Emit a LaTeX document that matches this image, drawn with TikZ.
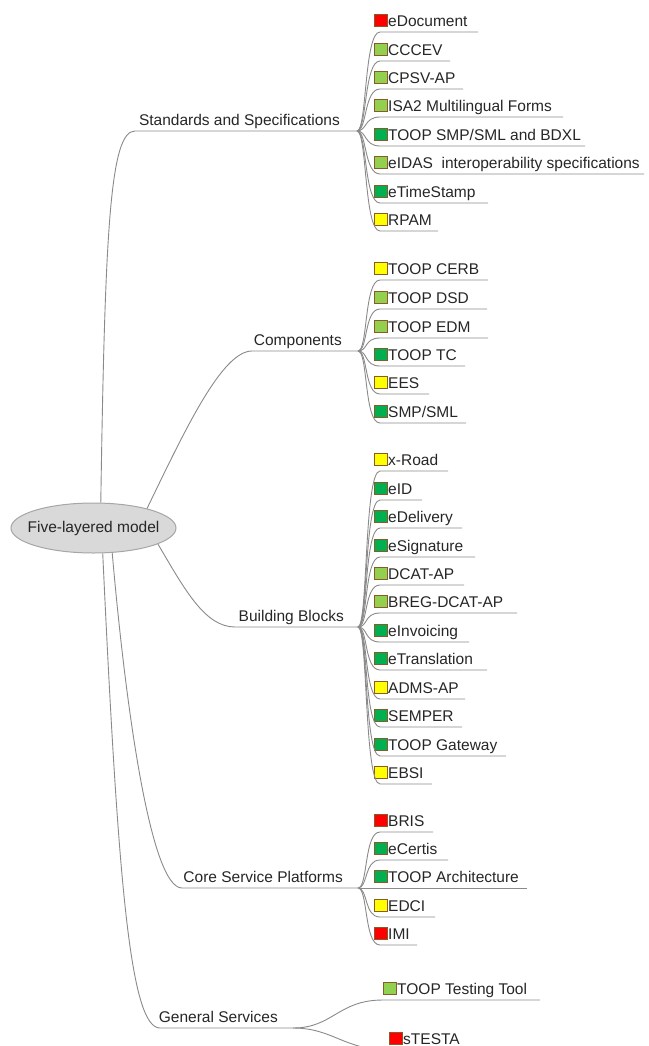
\documentclass[tikz,border=0pt]{standalone}
\usepackage{fontspec}
\setmainfont{Liberation Sans}
\usetikzlibrary{calc,shapes.geometric}
\definecolor{lnk}{HTML}{8A8A8A}
\definecolor{txt}{HTML}{262626}
\definecolor{sqb}{HTML}{8B5A2B}
\definecolor{cred}{HTML}{FF0000}
\definecolor{clg}{HTML}{92D050}
\definecolor{cdg}{HTML}{00B050}
\definecolor{cyl}{HTML}{FFFF00}
\definecolor{rootfill}{HTML}{D9D9D9}
\definecolor{rootdraw}{HTML}{A6A6A6}
\tikzset{
  link/.style={draw=lnk, line width=0.9pt},
  sq/.style={draw=sqb, line width=1pt, minimum width=13.5pt, minimum height=12.5pt, inner sep=0pt},
  lbl/.style={anchor=base west, inner sep=0pt, text=txt, font=\fontsize{15.5}{18}\selectfont},
  blbl/.style={anchor=base east, inner sep=0pt, text=txt, font=\fontsize{15.5}{18}\selectfont},
  rootnode/.style={ellipse, draw=rootdraw, fill=rootfill, line width=1pt, minimum width=165pt, minimum height=50pt, inner sep=0pt},
  roottext/.style={inner sep=0pt, text=txt, font=\fontsize{15.5}{18}\selectfont}
}
% #1 name, #2 fork coordinate, #3 underline y, #4 underline end x, #5 colour, #6 text
\newcommand\leafitem[6]{%
  \coordinate (#1-u) at (380,#3);
  \coordinate (#1-e) at (#4,#3);
  \node[sq, fill=#5] (#1-q) at (381,#3-11.5) {};
  \node[lbl] (#1-t) at (388,#3-5.5) {#6};
  \draw[link] (#2) .. controls +(10,0) and +(-16,0) .. (#1-u) -- (#1-e);
}
\begin{document}
\begin{tikzpicture}[x=1pt,y=-1pt]
\useasboundingbox (0,0) rectangle (648,1046);
\clip (0,0) rectangle (648,1046);

% root
\node[rootnode] (root) at (93.5,528) {};
\node[roottext] (roott) at (root.center) {Five-layered model};

% branch forks and labels
\coordinate (std-f) at (357,131);
\coordinate (comp-f) at (358,351);
\coordinate (bb-f) at (358,627);
\coordinate (csp-f) at (358,888);
\coordinate (gs-f) at (293,1028);

\coordinate (std-l) at (135,131);
\coordinate (comp-l) at (252,351);
\coordinate (bb-l) at (235,627);
\coordinate (csp-l) at (182,888);
\coordinate (gs-l) at (160,1028);

\node[blbl] (std) at (340,125) {Standards and Specifications};
\node[blbl] (comp) at (342,345) {Components};
\node[blbl] (bb) at (344,621) {Building Blocks};
\node[blbl] (csp) at (343,882) {Core Service Platforms};
\node[blbl] (gs) at (278,1022) {General Services};

\draw[link] (root.74) .. controls (105,230) and (110,131) .. (std-l) -- (std-f);
\draw[link] (root.20) .. controls (185,430) and (222,351) .. (comp-l) -- (comp-f);
\draw[link] (root.-14) .. controls (185,590) and (205,627) .. (bb-l) -- (bb-f);
\draw[link] (root.-53) .. controls (125,700) and (150,888) .. (csp-l) -- (csp-f);
\draw[link] (root.-70) .. controls (118,880) and (130,1028) .. (gs-l) -- (gs-f);

% Standards and Specifications
\leafitem{s1}{std-f}{32}{478}{cred}{eDocument}
\leafitem{s2}{std-f}{61}{450}{clg}{CCCEV}
\leafitem{s3}{std-f}{89}{463}{clg}{CPSV-AP}
\leafitem{s4}{std-f}{117}{563}{clg}{ISA2 Multilingual Forms}
\leafitem{s5}{std-f}{146}{585}{cdg}{TOOP SMP/SML and BDXL}
\leafitem{s6}{std-f}{174}{644}{clg}{eIDAS\ \ interoperability specifications}
\leafitem{s7}{std-f}{203}{488}{cdg}{eTimeStamp}
\leafitem{s8}{std-f}{231}{438}{cyl}{RPAM}

% Components
\leafitem{c1}{comp-f}{280}{488}{cyl}{TOOP CERB}
\leafitem{c2}{comp-f}{309}{487}{clg}{TOOP DSD}
\leafitem{c3}{comp-f}{338}{488}{clg}{TOOP EDM}
\leafitem{c4}{comp-f}{366}{465}{cdg}{TOOP TC}
\leafitem{c5}{comp-f}{394}{429}{cyl}{EES}
\leafitem{c6}{comp-f}{423}{466}{cdg}{SMP/SML}

% Building Blocks
\leafitem{b1}{bb-f}{471}{448}{cyl}{x-Road}
\leafitem{b2}{bb-f}{500}{422}{cdg}{eID}
\leafitem{b3}{bb-f}{528}{462}{cdg}{eDelivery}
\leafitem{b4}{bb-f}{557}{475}{cdg}{eSignature}
\leafitem{b5}{bb-f}{585}{464}{clg}{DCAT-AP}
\leafitem{b6}{bb-f}{613}{517}{clg}{BREG-DCAT-AP}
\leafitem{b7}{bb-f}{642}{469}{cdg}{eInvoicing}
\leafitem{b8}{bb-f}{670}{487}{cdg}{eTranslation}
\leafitem{b9}{bb-f}{699}{465}{cyl}{ADMS-AP}
\leafitem{b10}{bb-f}{727}{462}{cdg}{SEMPER}
\leafitem{b11}{bb-f}{756}{506}{cdg}{TOOP Gateway}
\leafitem{b12}{bb-f}{784}{432}{cyl}{EBSI}

% Core Service Platforms
\leafitem{p1}{csp-f}{832}{433}{cred}{BRIS}
\leafitem{p2}{csp-f}{860}{448}{cdg}{eCertis}
\leafitem{p3}{csp-f}{888}{527}{cdg}{TOOP Architecture}
\leafitem{p4}{csp-f}{917}{435}{cyl}{EDCI}
\leafitem{p5}{csp-f}{945}{417}{cred}{IMI}

% General Services
\coordinate (g1-u) at (383,1000);
\coordinate (g1-e) at (540,1000);
\node[sq, fill=clg] (g1-q) at (390,988.5) {};
\node[lbl] (g1-t) at (397,994.5) {TOOP Testing Tool};
\draw[link] (gs-f) .. controls +(40,0) and +(-45,0) .. (g1-u) -- (g1-e);

\coordinate (g2-u) at (389,1050);
\coordinate (g2-e) at (470,1050);
\node[sq, fill=cred] (g2-q) at (396,1038.5) {};
\node[lbl] (g2-t) at (403,1044.5) {sTESTA};
\draw[link] (gs-f) .. controls +(40,0) and +(-45,0) .. (g2-u) -- (g2-e);
\end{tikzpicture}
\end{document}
